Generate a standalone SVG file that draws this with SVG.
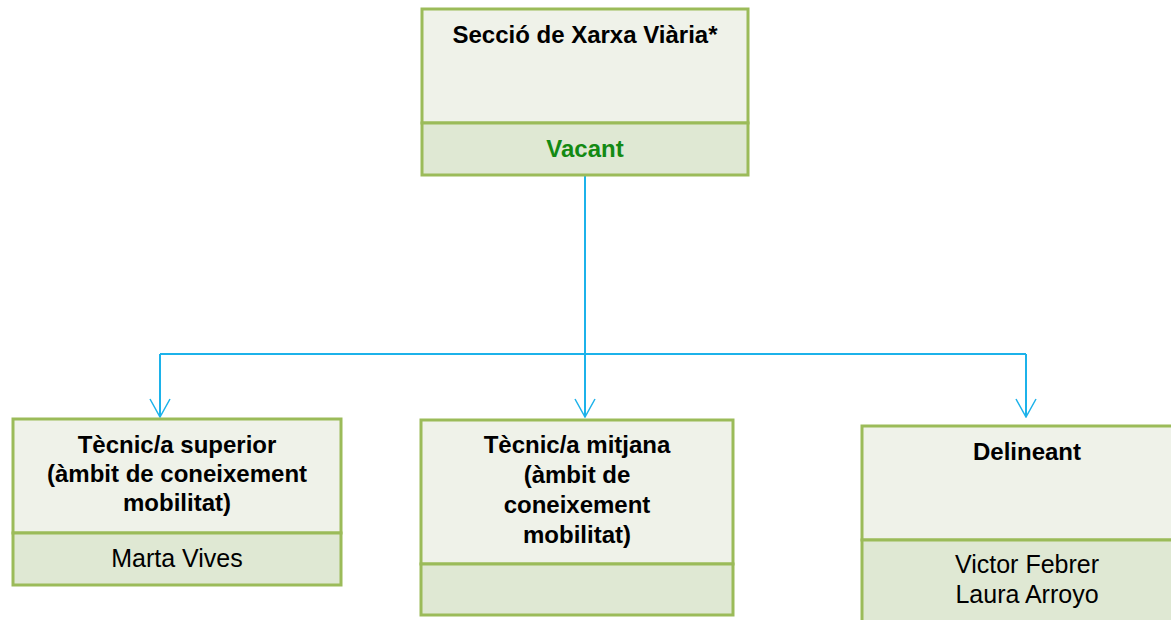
<svg xmlns="http://www.w3.org/2000/svg" width="1171" height="620" viewBox="0 0 1171 620">
<defs>
<style>
.top{fill:#EFF2E9;stroke:#9BBB59;stroke-width:3}
.bot{fill:#DFE8D3;stroke:#9BBB59;stroke-width:3}
.t{font-family:"Liberation Sans",Arial,sans-serif;font-size:24px;font-weight:bold;fill:#000;text-anchor:middle}
.n{font-family:"Liberation Sans",Arial,sans-serif;font-size:25px;fill:#000;text-anchor:middle}
.v{font-family:"Liberation Sans",Arial,sans-serif;font-size:24px;font-weight:bold;fill:#138A13;text-anchor:middle}
.c{fill:none;stroke:#1CB2EA;stroke-width:2}
</style>
<marker id="arr" viewBox="0 0 20 22" refX="19" refY="11" markerWidth="20" markerHeight="22" markerUnits="userSpaceOnUse" orient="auto">
<path d="M1,1 L19,11 L1,21" fill="none" stroke="#1CB2EA" stroke-width="1.5"/>
</marker>
</defs>
<g id="connectors">
<path class="c" d="M585,175 V354"/>
<path class="c" d="M160,354 H1026"/>
<path class="c" d="M160,354 V417" marker-end="url(#arr)"/>
<path class="c" d="M585,354 V417" marker-end="url(#arr)"/>
<path class="c" d="M1026,354 V417" marker-end="url(#arr)"/>
</g>
<g id="seccio">
<rect class="top" x="422" y="9" width="326" height="114"/>
<rect class="bot" x="422" y="123" width="326" height="52"/>
<text class="t" x="585" y="43">Secció de Xarxa Viària*</text>
<text class="v" x="585" y="157">Vacant</text>
</g>
<g id="tecnic-superior">
<rect class="top" x="13" y="419" width="328" height="114"/>
<rect class="bot" x="13" y="533" width="328" height="52"/>
<text class="t" x="177" y="453">Tècnic/a superior</text>
<text class="t" x="177" y="482">(àmbit de coneixement</text>
<text class="t" x="177" y="511">mobilitat)</text>
<text class="n" x="177" y="567">Marta Vives</text>
</g>
<g id="tecnic-mitjana">
<rect class="top" x="421" y="420" width="312" height="144"/>
<rect class="bot" x="421" y="564" width="312" height="51"/>
<text class="t" x="577" y="453">Tècnic/a mitjana</text>
<text class="t" x="577" y="483">(àmbit de</text>
<text class="t" x="577" y="513">coneixement</text>
<text class="t" x="577" y="543">mobilitat)</text>
</g>
<g id="delineant">
<rect class="top" x="862" y="426" width="330" height="114"/>
<rect class="bot" x="862" y="540" width="330" height="90"/>
<text class="t" x="1027" y="460">Delineant</text>
<text class="n" x="1027" y="573">Victor Febrer</text>
<text class="n" x="1027" y="603">Laura Arroyo</text>
</g>
</svg>
